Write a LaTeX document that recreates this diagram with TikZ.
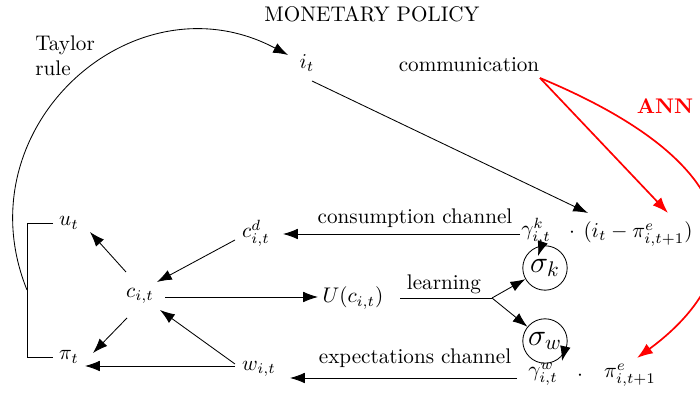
\documentclass[tikz,border=0pt]{standalone}
\usetikzlibrary{arrows.meta,calc}
\begin{document}
\begin{tikzpicture}[x=0.4728pt,y=0.4728pt,
  arr/.style={-{Latex[length=7pt,width=5pt]}, line width=0.4pt},
  lbl/.style={inner sep=0pt},
  rarr/.style={draw=red, line width=0.8pt, -{Latex[length=7.5pt,width=5.5pt]}},
  sig/.style={draw, circle, minimum size=21pt, inner sep=0pt, font=\Large}]
\useasboundingbox (0,0) rectangle (700,-394);

% nodes
\node[lbl] (mp) at (372,-14) {MONETARY POLICY};
\node[lbl, align=left, anchor=west] (tr) at (35,-56) {Taylor\\rule};
\node[lbl] (it) at (307,-63) {$i_t$};
\node[lbl] (comm) at (469,-65) {communication};
\node[lbl, text=red, font=\bfseries] (ann) at (665,-106) {ANN};
\node[lbl] (ut) at (69,-223) {$u_t$};
\node[lbl] (pit) at (69,-357) {$\pi_t$};
\node[lbl] (cit) at (140,-296) {$c_{i,t}$};
\node[lbl] (cd) at (256,-233) {$c^d_{i,t}$};
\node[lbl] (U) at (353,-298) {$U(c_{i,t})$};
\node[lbl] (wit) at (259,-369) {$w_{i,t}$};
\node[lbl] (gk) at (536,-231) {$\gamma^k_{i,t}$};
\node[lbl] (dk) at (572,-233) {$\cdot$};
\node[lbl] (expr) at (638,-234) {$(i_t-\pi^e_{i,t+1})$};
\node[lbl] (gw) at (543,-374) {$\gamma^w_{i,t}$};
\node[lbl] (dw) at (580,-376) {$\cdot$};
\node[lbl] (pie) at (630,-375) {$\pi^e_{i,t+1}$};
\node[sig] (sk) at (545,-268) {$\sigma_k$};
\node[sig] (sw) at (545,-341) {$\sigma_w$};
\node[lbl] (cc) at (415,-218) {consumption channel};
\node[lbl] (ec) at (415,-358) {expectations channel};
\node[lbl] (learn) at (444,-284) {learning};

% bracket u_t / pi_t
\draw ($(ut)+(-16,0)$) -- ($(ut)+(-42,0)$) -- ($(pit)+(-42,0)$) -- ($(pit)+(-16,0)$);
\coordinate (bk) at ($(ut)!0.5!(pit)+(-42,0)$);

% Taylor rule arc
\draw[arr] (bk) .. controls +(112:175) and +(152:175) .. ($(it)+(-19,8)$);

% i_t to expression
\draw[arr] ($(it)+(5,-18)$) -- ($(expr)+(-50,21)$);

% channels
\draw[arr] ($(gk)+(-16,-3)$) -- ($(cd)+(27,-1)$);
\draw[arr] ($(gw)+(-26,-4)$) -- ($(wit)+(31,-9)$);

% household block
\draw[arr] ($(cd)+(-21,-7)$) -- ($(cit)+(17,14)$);
\draw[arr] ($(cit)+(-14,24)$) -- ($(ut)+(21,-9)$);
\draw[arr] ($(cit)+(-13,-22)$) -- ($(pit)+(24,4)$);
\draw[arr] ($(cit)+(25,-1)$) -- ($(U)+(-35,1)$);
\draw[arr] ($(wit)+(-24,3)$) -- ($(pit)+(16,-9)$);
\draw[arr] ($(wit)+(-24,5)$) -- ($(cit)+(20,-14)$);

% learning fork
\coordinate (fork) at (492,-298);
\draw ($(U)+(47,0)$) -- (fork);
\draw[arr] (fork) -- (sk);
\draw[arr] (fork) -- (sw);

% sigma arrows
\draw[arr] ($(sk)+(-3,24)$) -- ($(sk)+(-7,12)$);
\draw[arr] ($(sw)+(20,-7)$) -- ($(sw)+(17,-20)$);

% red ANN arrows
\draw[rarr] ($(comm)+(71,-13)$) -- ($(expr)+(30,21)$);
\draw[rarr] ($(comm)+(71,-13)$) .. controls +(240,-100) and +(97,71) .. ($(pie)+(7,17)$);
\end{tikzpicture}
\end{document}
